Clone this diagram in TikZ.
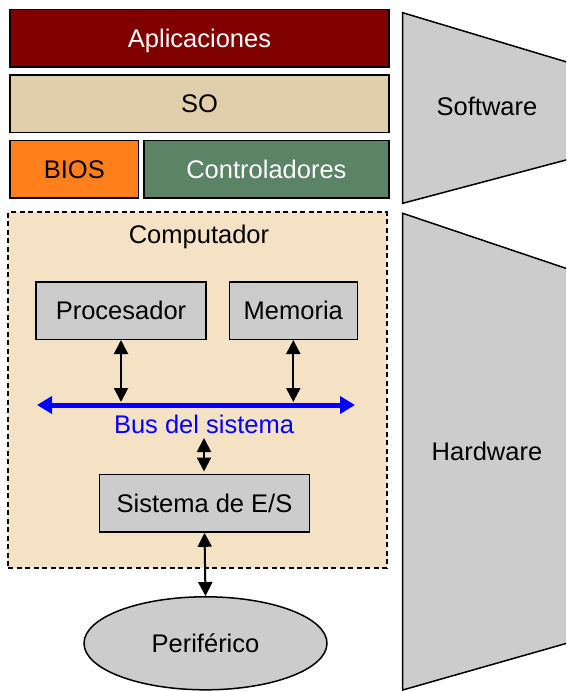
\documentclass[tikz,border=0pt]{standalone}
\usepackage{fontspec}
\setmainfont{Liberation Sans}
\usetikzlibrary{arrows.meta,shapes.geometric}
\definecolor{apcol}{HTML}{800000}
\definecolor{socol}{HTML}{E1CEAB}
\definecolor{bioscol}{HTML}{FF7F1A}
\definecolor{ctrlcol}{HTML}{5B8366}
\definecolor{compcol}{HTML}{F5E1C3}
\definecolor{grcol}{HTML}{CCCCCC}
\definecolor{buscol}{HTML}{0000FF}
\tikzset{
  captext/.style={text height=18.3pt, text depth=0pt},
  layerbox/.style={draw=black, line width=1.5pt, inner sep=0pt, minimum height=57.5pt, captext},
  compbox/.style={draw=black, line width=1.5pt, fill=grcol, inner sep=0pt, minimum height=57.5pt, captext},
  dblarrow/.style={line width=2pt, {Triangle[length=14pt,width=14pt]}-{Triangle[length=14pt,width=14pt]}},
  busarrow/.style={draw=buscol, line width=5pt, {Triangle[length=15pt,width=17pt]}-{Triangle[length=15pt,width=17pt]}},
  trap/.style={draw=black, line width=1.5pt, fill=grcol, line join=miter},
  lbl/.style={inner sep=0pt, captext}
}
\begin{document}
\begin{tikzpicture}[x=1pt,y=-1pt,font=\fontsize{25.5}{30}\selectfont]
\useasboundingbox (0,0) rectangle (566,691);
\begin{scope}
\clip (0,0) rectangle (566,691);
\filldraw[trap] (402.7,12.7) -- (600,72) -- (600,151) -- (402.7,203.3) -- cycle;
\filldraw[trap] (402.7,213.3) -- (600,279.8) -- (600,633.8) -- (402.7,690) -- cycle;
\end{scope}
\node[lbl] (sw) at (487,106.5) {Software};
\node[lbl] (hw) at (487,451.7) {Hardware};
% software layers
\node[layerbox, fill=apcol, text=white, minimum width=379pt] (ap) at (199.5,38) {Aplicaciones};
\node[layerbox, fill=socol, minimum width=379pt] (so) at (199.5,103.7) {SO};
\node[layerbox, fill=bioscol, minimum width=128.6pt] (bios) at (74.3,169.2) {BIOS};
\node[layerbox, fill=ctrlcol, text=white, minimum width=245.3pt] (ctrl) at (266.4,169.2) {Controladores};
% computer
\node[draw=black, line width=1.8pt, dash pattern=on 5pt off 3.5pt, fill=compcol, inner sep=0pt, minimum width=378.5pt, minimum height=356pt] (comp) at (197.5,390.2) {};
\node[lbl] (complbl) at (199,234.7) {Computador};
\node[compbox, minimum width=170pt] (proc) at (121,310.5) {Procesador};
\node[compbox, minimum width=128pt] (mem) at (293.3,310.5) {Memoria};
\coordinate (busL) at (37,405);
\coordinate (busR) at (355,405);
\draw[busarrow] (busL) -- (busR);
\node[lbl, text=buscol] (buslbl) at (204,424.2) {Bus del sistema};
\coordinate (busP) at (121,402);
\coordinate (busM) at (293.3,402);
\draw[dblarrow] (proc.south) -- (busP);
\draw[dblarrow] (mem.south) -- (busM);
\node[compbox, minimum width=210pt] (es) at (204.5,503.3) {Sistema de E/S};
\coordinate (esA) at (204,438);
\coordinate (esB) at (204,471.5);
\draw[dblarrow] (esA) -- (esB);
\node[ellipse, draw=black, line width=1.5pt, fill=grcol, inner sep=0pt, minimum width=243pt, minimum height=93pt, captext] (per) at (205.5,643.3) {Periférico};
\draw[dblarrow] (es.south) -- (per.north);
\end{tikzpicture}
\end{document}
